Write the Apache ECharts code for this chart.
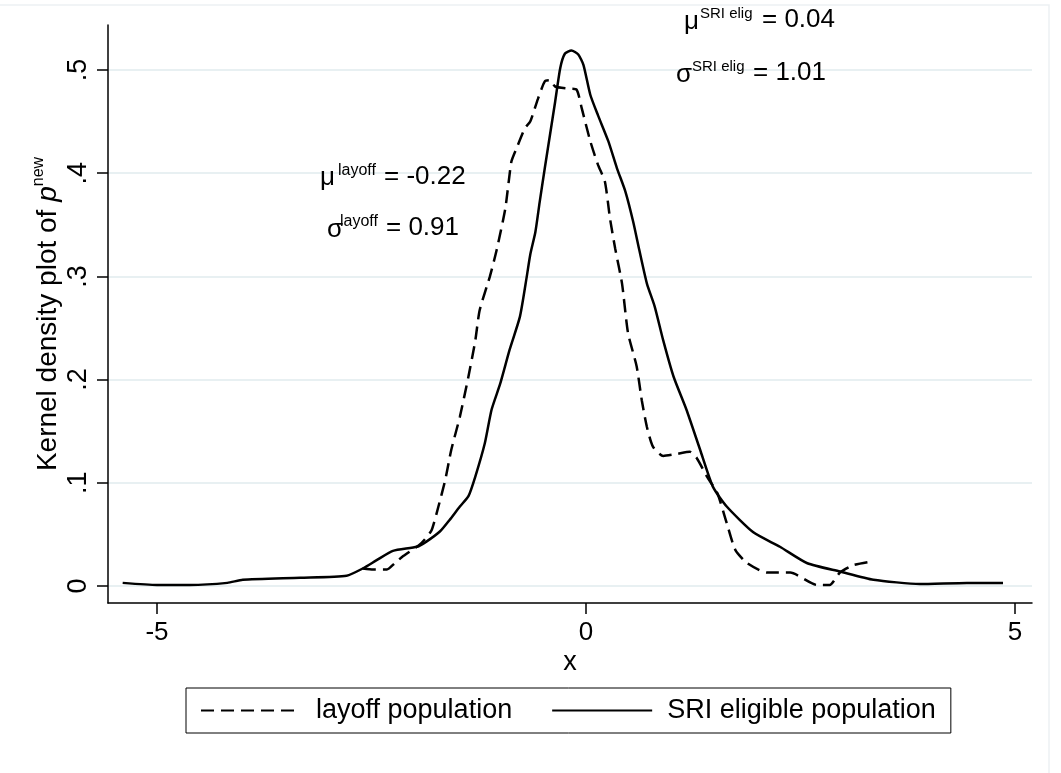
<!DOCTYPE html>
<html>
<head>
<meta charset="utf-8">
<script src="https://cdn.jsdelivr.net/npm/echarts@6/dist/echarts.min.js"></script>
<style>
html,body{margin:0;padding:0;background:#fff;}
#chart{width:1061px;height:773px;}
</style>
</head>
<body>
<div id="chart"></div>
<script>
// ---- data ----
const layoffX = [-2.60, -2.48, -2.32, -2.23, -2.13, -1.94, -1.88, -1.80, -1.72, -1.64, -1.57, -1.47, -1.37, -1.29, -1.24, -1.12, -1.04, -0.94, -0.87, -0.81, -0.71, -0.65, -0.56, -0.48, -0.42, -0.36, -0.21, -0.11, -0.05, 0.05, 0.14, 0.22, 0.28, 0.34, 0.42, 0.49, 0.59, 0.65, 0.71, 0.78, 0.90, 1.06, 1.21, 1.29, 1.41, 1.53, 1.64, 1.74, 1.88, 2.11, 2.38, 2.69, 2.84, 2.96, 3.11, 3.28];
const layoffY = [0.017, 0.016, 0.016, 0.022, 0.029, 0.040, 0.045, 0.054, 0.077, 0.103, 0.132, 0.164, 0.203, 0.238, 0.267, 0.300, 0.326, 0.366, 0.411, 0.424, 0.444, 0.450, 0.472, 0.489, 0.490, 0.484, 0.482, 0.481, 0.463, 0.431, 0.408, 0.392, 0.356, 0.327, 0.293, 0.245, 0.213, 0.180, 0.154, 0.135, 0.126, 0.128, 0.130, 0.124, 0.106, 0.090, 0.061, 0.035, 0.022, 0.013, 0.013, 0.001, 0.001, 0.013, 0.020, 0.023];

const sriX = [-5.40, -5.00, -4.62, -4.18, -4.00, -3.33, -2.79, -2.60, -2.44, -2.25, -1.97, -1.86, -1.70, -1.59, -1.47, -1.37, -1.29, -1.18, -1.10, -1.00, -0.89, -0.77, -0.69, -0.65, -0.59, -0.54, -0.48, -0.42, -0.36, -0.30, -0.245, -0.17, -0.09, -0.03, 0.05, 0.14, 0.26, 0.36, 0.46, 0.55, 0.62, 0.71, 0.80, 0.90, 1.02, 1.17, 1.33, 1.48, 1.64, 1.95, 2.26, 2.58, 2.96, 3.35, 3.89, 4.44, 4.86];
const sriY = [0.003, 0.001, 0.001, 0.003, 0.006, 0.008, 0.010, 0.017, 0.025, 0.034, 0.038, 0.043, 0.053, 0.064, 0.077, 0.087, 0.106, 0.138, 0.171, 0.196, 0.229, 0.261, 0.300, 0.321, 0.343, 0.372, 0.405, 0.437, 0.469, 0.502, 0.516, 0.519, 0.515, 0.505, 0.476, 0.456, 0.431, 0.405, 0.382, 0.353, 0.326, 0.293, 0.271, 0.238, 0.203, 0.171, 0.132, 0.096, 0.077, 0.052, 0.038, 0.022, 0.014, 0.006, 0.002, 0.003, 0.003];

const seriesNames = ['layoff population', 'SRI eligible population'];
const xTickValues = [-5, 0, 5];
const yTickValues = [0, 0.1, 0.2, 0.3, 0.4, 0.5];
const yTickLabels = ['0', '.1', '.2', '.3', '.4', '.5'];
const xAxisTitle = 'x';

const FONT = '"Liberation Sans", Arial, Helvetica, sans-serif';

function pairs(xs, ys) { return xs.map((x, i) => [x, ys[i]]); }

const chart = echarts.init(document.getElementById('chart'), null, {renderer: 'canvas'});

function txt(x, y, text, size) {
  return {type: 'text', x: x, y: y, z: 100, silent: true,
    style: {text: text, fontSize: size, fontFamily: FONT, fill: '#000', align: 'left', verticalAlign: 'middle'}};
}

const option = {
  backgroundColor: '#fff',
  animation: false,
  grid: {left: 108, right: 29, top: 25, bottom: 170, containLabel: false},
  xAxis: {
    type: 'value', min: -5.571, max: 5.198,
    name: xAxisTitle, nameLocation: 'middle', nameGap: 46, nameMoveOverlap: false,
    nameTextStyle: {fontSize: 27, fontFamily: FONT, color: '#000'},
    axisLine: {show: true, onZero: false, lineStyle: {color: '#000', width: 1.5}},
    axisTick: {show: true, length: 11, customValues: xTickValues, lineStyle: {color: '#000', width: 1.5}},
    axisLabel: {customValues: xTickValues, margin: 17, fontSize: 26, fontFamily: FONT, color: '#000',
      formatter: v => String(v)},
    splitLine: {show: false}
  },
  yAxis: {
    type: 'value', min: -0.0165, max: 0.5436,
    name: '{a|Kernel density plot of }{i|p}{s|new}', nameLocation: 'middle', nameGap: 43, nameRotate: 90,
    nameMoveOverlap: false,
    nameTextStyle: {color: '#000', rich: {
      a: {fontSize: 28, fontFamily: FONT, color: '#000', lineHeight: 34},
      i: {fontSize: 28, fontFamily: FONT, fontStyle: 'italic', color: '#000', lineHeight: 34},
      s: {fontSize: 16, fontFamily: FONT, color: '#000', verticalAlign: 'top', lineHeight: 34}
    }},
    axisLine: {show: true, onZero: false, lineStyle: {color: '#000', width: 1.5}},
    axisTick: {show: true, length: 11, customValues: yTickValues, lineStyle: {color: '#000', width: 1.5}},
    axisLabel: {customValues: yTickValues, rotate: 90, margin: 16, fontSize: 27, fontFamily: FONT, color: '#000',
      formatter: v => { const i = yTickValues.findIndex(t => Math.abs(t - v) < 1e-9); return i >= 0 ? yTickLabels[i] : ''; }},
    splitLine: {show: true, lineStyle: {color: '#e8f0f2', width: 2}}
  },
  legend: {
    data: seriesNames,
    left: 186, top: 688, orient: 'horizontal',
    itemWidth: 100, itemHeight: 16, itemGap: 39,
    padding: [9, 15, 9, 14],
    borderColor: '#000', borderWidth: 1,
    selectedMode: false,
    itemStyle: {opacity: 0},
    textStyle: {fontSize: 27, fontFamily: FONT, color: '#000', padding: [0, 0, 0, 10]}
  },
  series: [
    {name: seriesNames[0], type: 'line', data: pairs(layoffX, layoffY), symbol: 'none', smooth: 0.2,
      lineStyle: {color: '#000', width: 2.5, type: [13, 7]}, itemStyle: {color: '#000'}, emphasis: {disabled: true}},
    {name: seriesNames[1], type: 'line', data: pairs(sriX, sriY), symbol: 'none', smooth: 0.2,
      lineStyle: {color: '#000', width: 2.5, type: 'solid'}, itemStyle: {color: '#000'}, emphasis: {disabled: true}}
  ],
  graphic: [
    {type: 'rect', silent: true, z: 100, shape: {x: -2, y: 5, width: 1051, height: 800},
      style: {fill: 'none', stroke: '#edf1f3', lineWidth: 1.5}},
    txt(320, 178, 'μ', 26), txt(338, 171, 'layoff', 16), txt(384, 177, '= -0.22', 26),
    txt(327, 230, 'σ', 26), txt(340, 222, 'layoff', 16), txt(386, 228, '= 0.91', 26),
    txt(684, 22, 'μ', 26), txt(700, 14, 'SRI elig', 15), txt(762, 20, '= 0.04', 26),
    txt(676, 75, 'σ', 26), txt(692, 67, 'SRI elig', 15), txt(753, 73, '= 1.01', 26)
  ]
};
chart.setOption(option);
</script>
</body>
</html>
